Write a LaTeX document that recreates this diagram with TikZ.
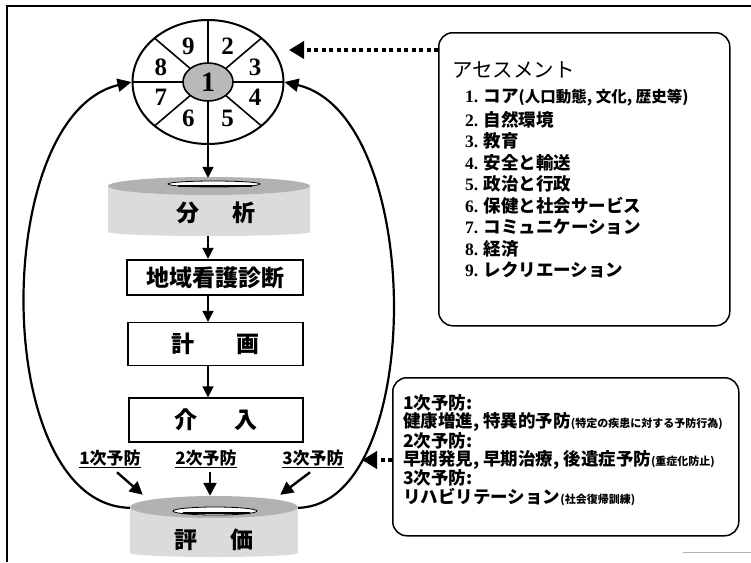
\documentclass[tikz,border=0pt]{standalone}
\usepackage{fontspec}
\setmainfont{Liberation Serif}
\newfontfamily\jp{Noto Sans CJK JP}
\newfontfamily\tnr{Liberation Serif}
\usetikzlibrary{arrows.meta,shapes.geometric,calc}
\newcommand{\anum}[1]{{\tnr\bfseries #1}}
\newcommand{\fs}[1]{\fontsize{#1}{#1}\selectfont}
\tikzset{
  thinframe/.style={line width=1.2pt},
  arr/.style={line width=1.6pt,-{Triangle[length=11pt,width=11pt]}},
  parr/.style={line width=2.4pt,-{Triangle[length=13pt,width=13pt]}},
  bigarr/.style={line width=2.2pt,-{Triangle[length=14pt,width=13pt]}},
  dotarr/.style={line width=4pt,dash pattern=on 4pt off 3.5pt,-{Triangle[length=15pt,width=17pt]}},
  wnum/.style={font=\tnr\bfseries\fs{25}, inner sep=0pt},
  flowbox/.style={draw, line width=1.3pt, fill=white, inner sep=0pt, font=\jp\bfseries\fs{23}},
  bigtxt/.style={font=\jp\bfseries\fs{23}, inner sep=0pt},
  rbox/.style={draw, line width=1.5pt, rounded corners=14pt, inner sep=0pt},
  atxt/.style={anchor=west, inner sep=0pt, font=\jp\bfseries\fs{17.5}},
  ptxt/.style={anchor=west, inner sep=0pt, font=\jp\bfseries\fs{17.5}},
  lbl/.style={inner sep=0pt, font=\jp\bfseries\fs{17}},
  cylbody/.style={fill=gray!28},
  cyltop/.style={fill=gray!60},
}
\begin{document}
\begin{tikzpicture}[x=1pt,y=-1pt]
\useasboundingbox (0,0) rectangle (751,562);
% frame
\draw[thinframe] (7,562) -- (7,6) -- (751,6);
\draw[gray!60, line width=1pt] (683,552) -- (751,552);

% wheel
\node[ellipse, draw, line width=2pt, minimum width=151pt, minimum height=124pt, inner sep=0pt] (wheel) at (208,82) {};
\foreach \a in {0,45,...,315}
  \draw[line width=1.6pt] ($(208,82)+(\a:25 and 19)$) -- ($(208,82)+(\a:75.5 and 62)$);
\node[ellipse, draw, line width=1.6pt, fill=gray!55, minimum width=50pt, minimum height=38pt, inner sep=0pt, font=\tnr\bfseries\fs{28}] (core) at (208,82) {1};
\foreach \n/\a in {2/-67.5,3/-22.5,4/22.5,5/67.5,6/112.5,7/157.5,8/-157.5,9/-112.5}
  \node[wnum] (n\n) at ($(208,82)+(\a:51 and 39)$) {\n};

% cylinder: analysis
\fill[cylbody] (108,186) rectangle (310,232);
\fill[cylbody] (209,232) ellipse (101 and 4);
\fill[cyltop] (209,186) ellipse (101 and 9);
\fill[white] (214,184) ellipse (46 and 3);
\draw[line width=0.8pt] (214,184) ellipse (46 and 3);
\draw[line width=1.4pt] (178,186) -- (252,186);
\node[minimum width=202pt, minimum height=58pt, inner sep=0pt] (bunseki) at (209,207) {};
\node[bigtxt] (bunsekitxt) at (216,213) {分\hspace{33pt}析};

% boxes
\node[flowbox, line width=2.2pt, minimum width=176pt, minimum height=35pt] (shindan) at (215,277.5) {地域看護診断};
\node[flowbox, minimum width=175pt, minimum height=43pt] (keikaku) at (215.5,344) {計\hspace{42pt}画};
\node[flowbox, minimum width=174pt, minimum height=44pt] (kainyu) at (216,420) {介\hspace{38pt}入};

% cylinder: evaluation
\fill[cylbody] (130,507) rectangle (298,553);
\fill[cylbody] (214,553) ellipse (84 and 4);
\fill[cyltop] (214,507) ellipse (84 and 11);
\fill[white] (215,511) ellipse (42 and 4);
\draw[line width=0.8pt] (215,511) ellipse (42 and 4);
\draw[line width=1.4pt] (183,513) -- (250,513);
\node[minimum width=168pt, minimum height=61pt, inner sep=0pt] (hyoka) at (214,526.5) {};
\node[bigtxt] (hyokatxt) at (214,540) {評\hspace{34pt}価};

% flow arrows
\draw[arr] (wheel.south) -- (wheel.south |- bunseki.north);
\draw[arr] (wheel.south |- bunseki.south) -- (wheel.south |- shindan.north);
\draw[arr] (wheel.south |- shindan.south) -- (wheel.south |- keikaku.north);
\draw[arr] (wheel.south |- keikaku.south) -- (wheel.south |- kainyu.north);

% prevention labels
\node[lbl] (p1) at (110,459) {\underline{1次予防}};
\node[lbl] (p2) at (206,459) {\underline{2次予防}};
\node[lbl] (p3) at (313,459) {\underline{3次予防}};
\draw[parr] ($(p1.south)+(7,4)$) -- ($(hyoka.north west)+(13,-1)$);
\draw[parr] ($(p2.south)+(4,4)$) -- ($(hyoka.north)+(-4,0)$);
\draw[parr] ($(p3.south)+(-3,4)$) -- ($(hyoka.north east)+(-18,-1)$);

% big loops
\draw[bigarr] ($(hyoka.north west)+(0,12)$) .. controls (-10,505) and (-10,115) .. (wheel.west);
\draw[bigarr] ($(hyoka.north east)+(0,12)$) .. controls (426,505) and (426,115) .. (wheel.east);

% assessment box
\node[rbox, anchor=north west, minimum width=291pt, minimum height=293pt] (assess) at (438,32) {};
\coordinate (wtip) at (289,50);
\draw[dotarr] (assess.west |- wtip) -- (wtip);
\node[atxt, font=\jp\fs{20.5}] (atitle) at (452,70) {アセスメント};
\node[atxt] (a1) at (465,98) {\anum{1.} コア{\fs{15.5}(人口動態, 文化, 歴史等)}};
\node[atxt] (a2) at (465,119.5) {\anum{2.} 自然環境};
\node[atxt] (a3) at (465,141) {\anum{3.} 教育};
\node[atxt] (a4) at (465,162.5) {\anum{4.} 安全と輸送};
\node[atxt] (a5) at (465,184) {\anum{5.} 政治と行政};
\node[atxt] (a6) at (465,205.5) {\anum{6.} 保健と社会サービス};
\node[atxt] (a7) at (465,227) {\anum{7.} コミュニケーション};
\node[atxt] (a8) at (465,248.5) {\anum{8.} 経済};
\node[atxt] (a9) at (465,270) {\anum{9.} レクリエーション};

% prevention box
\node[rbox, anchor=north west, minimum width=346pt, minimum height=158pt] (yobo) at (392,377) {};
\coordinate (ytip) at (362,460);
\draw[dotarr] (yobo.west |- ytip) -- (ytip);
\node[ptxt] (y1) at (403,403) {1次予防:};
\node[ptxt] (y2) at (403,422) {健康増進, 特異的予防{\fs{11}(特定の疾患に対する予防行為)}};
\node[ptxt] (y3) at (403,441) {2次予防:};
\node[ptxt] (y4) at (403,459.5) {早期発見, 早期治療, 後遺症予防{\fs{11}(重症化防止)}};
\node[ptxt] (y5) at (403,478) {3次予防:};
\node[ptxt] (y6) at (403,497) {リハビリテーション{\fs{11}(社会復帰訓練)}};
\end{tikzpicture}
\end{document}
